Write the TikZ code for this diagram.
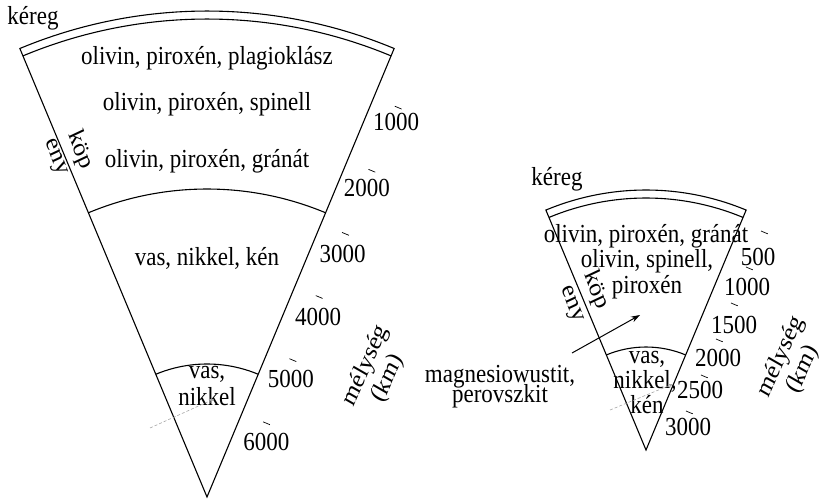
\documentclass[tikz,border=0pt]{standalone}
\usepackage{fontspec}
\setmainfont{Liberation Serif}
\usetikzlibrary{calc,arrows.meta}
\begin{document}
\begin{tikzpicture}[x=1pt,y=1pt,
  edge/.style={line width=1.1pt, line join=miter},
  txt/.style={font=\fontsize{23}{19}\selectfont, inner sep=0pt, yscale=1.13},
  rtxt/.style={font=\fontsize{23}{19}\selectfont, inner sep=0pt, yscale=1.13, rotate=-67.35},
  axistitle/.style={font=\fontsize{23}{25}\selectfont, inner sep=0pt, align=center, yscale=1.13, rotate=63},
  tickmark/.style={line width=0.7pt},
  faint/.style={gray!70, line width=0.6pt, densely dashed, -{Stealth[length=5pt,width=4pt]}},
  pointer/.style={line width=1pt, -{Stealth[length=9pt,width=6pt]}}]
\useasboundingbox (0,0) rectangle (821,499);

% ---------- large wedge: whole Earth ----------
\coordinate (A) at (207,2);
\draw[edge] (A) -- ($(A)+(112.65:486)$) arc[start angle=112.65, end angle=67.35, radius=486] -- cycle;
\draw[edge] ($(A)+(112.65:478)$) arc[start angle=112.65, end angle=67.35, radius=478];
\draw[edge] ($(A)+(112.65:308)$) arc[start angle=112.65, end angle=67.35, radius=308];
\draw[edge] ($(A)+(112.65:133)$) arc[start angle=112.65, end angle=67.35, radius=133];

\node[txt, anchor=base] (kA) at (33,474) {kéreg};
\node[txt, anchor=base] (l1) at (207,434) {olivin, piroxén, plagioklász};
\node[txt, anchor=base] (l2) at (207,389) {olivin, piroxén, spinell};
\node[txt, anchor=base] (l3) at (207,332) {olivin, piroxén, gránát};
\node[txt, anchor=base] (l4) at (207,234) {vas, nikkel, kén};
\node[txt, anchor=base] (l5) at (207,121) {vas,};
\node[txt, anchor=base] (l6) at (207,94) {nikkel};
\node[rtxt] (kopA) at (80,349) {köp};
\node[rtxt] (enyA) at (55,341) {eny};

% depth scale along the right edge
\foreach \d/\dx/\dy in {1000/-2/-14,2000/-5/-17,3000/-3/-20,4000/-1/-20,5000/-2/-19,6000/0/-19}{
  \coordinate (tA\d) at ($(A)+(67.35:{501.4-0.0684*\d})+(-22.65:26.5)$);
  \draw[tickmark] ($(tA\d)+(-22.65:-3.7)$) -- ($(tA\d)+(-22.65:3.7)$);
  \node[txt] (nA\d) at ($(tA\d)+(\dx,\dy)$) {\d};
}
\node[axistitle] (mA) at (377,127) {mélység\\(km)};

\draw[faint] (150,71) -- (214,100);

% ---------- small wedge: Mars ----------
\coordinate (B) at (646,49);
\draw[edge] (B) -- ($(B)+(112.65:260)$) arc[start angle=112.65, end angle=67.35, radius=260] -- cycle;
\draw[edge] ($(B)+(112.65:252)$) arc[start angle=112.65, end angle=67.35, radius=252];
\draw[edge] ($(B)+(112.65:103)$) arc[start angle=112.65, end angle=67.35, radius=103];

\node[txt, anchor=base] (kB) at (557,314) {kéreg};
\node[txt, anchor=base] (m1) at (646,257) {olivin, piroxén, gránát};
\node[txt, anchor=base] (m2) at (647,232) {olivin, spinell,};
\node[txt, anchor=base] (m3) at (647,206) {piroxén};
\node[txt, anchor=base] (m4) at (647,136) {vas,};
\node[txt, anchor=base] (m5) at (645,111) {nikkel,};
\node[txt, anchor=base] (m6) at (647,86) {kén};
\node[rtxt] (kopB) at (596,209) {köp};
\node[rtxt] (enyB) at (571,194) {eny};

\foreach \d in {500,1000,...,3000}{
  \coordinate (tB\d) at ($(B)+(67.35:{285.4-0.078*\d})+(-22.65:25.5)$);
  \draw[tickmark] ($(tB\d)+(-22.65:-3.7)$) -- ($(tB\d)+(-22.65:3.7)$);
}
\node[txt] (nB500)  at (758,242) {500};
\node[txt] (nB1000) at (747,212) {1000};
\node[txt] (nB1500) at (734,174) {1500};
\node[txt] (nB2000) at (718,141) {2000};
\node[txt] (nB2500) at (700,109) {2500};
\node[txt] (nB3000) at (688,72) {3000};
\node[axistitle] (mB) at (792,136) {mélység\\(km)};

\node[txt, anchor=base] (mw) at (500,117) {magnesiowustit,};
\node[txt, anchor=base] (pv) at (500,97) {perovszkit};
\coordinate (arrS) at (572,146);
\coordinate (arrE) at (640,184);
\draw[pointer] (arrS) -- (arrE);

\draw[faint] (610,89) -- (673,115);
\end{tikzpicture}
\end{document}
